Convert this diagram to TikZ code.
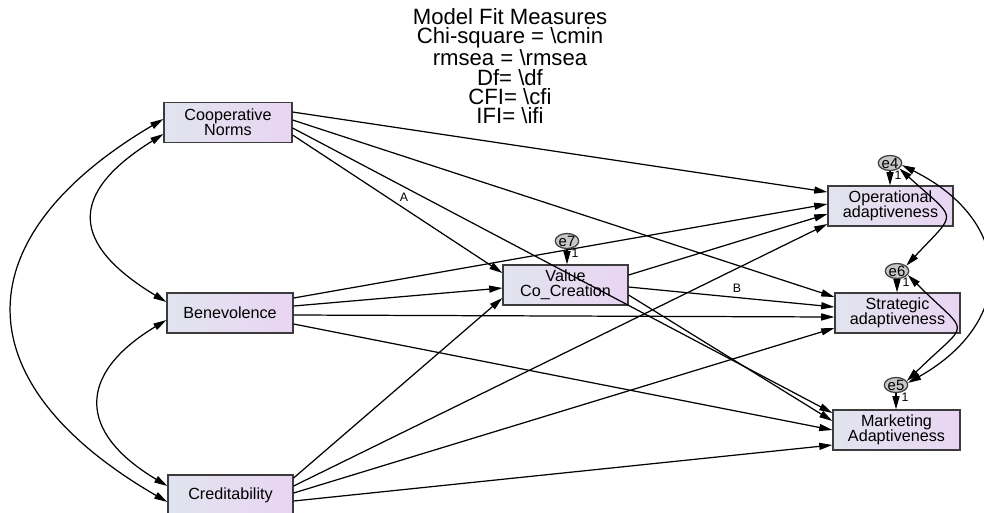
\documentclass[tikz,border=0pt]{standalone}
\usepackage{fontspec}
\setmainfont{Liberation Sans}
\usetikzlibrary{arrows.meta,shapes.geometric}
\definecolor{boxL}{RGB}{225,228,238}
\definecolor{boxR}{RGB}{233,213,243}
\definecolor{edgegray}{RGB}{60,60,60}
\begin{document}
\begin{tikzpicture}[x=0.02cm,y=-0.02cm,
  obs/.style={rectangle, draw=edgegray, line width=0.7pt, left color=boxL, right color=boxR,
    minimum height=0.8cm, inner sep=1pt, align=center, font=\fontsize{9.2}{8.7}\selectfont},
  err/.style={ellipse, draw=edgegray, line width=0.7pt, fill=black!22, minimum width=0.47cm,
    minimum height=0.3cm, inner sep=0pt, font=\fontsize{8.5}{8.5}\selectfont},
  reg/.style={line width=0.7pt, -{Triangle[length=7.5pt,width=4pt]}},
  cov/.style={line width=0.7pt, {Triangle[length=7.5pt,width=4pt]}-{Triangle[length=7.5pt,width=4pt]}},
  wlabel/.style={font=\fontsize{7}{7}\selectfont, inner sep=0pt},
]
\useasboundingbox (0,0) rectangle (984,512);

% fit measures
\node[align=center, font=\fontsize{12.6}{11}\selectfont] (fit) at (510,66)
  {Model Fit Measures\\Chi-square = \textbackslash cmin\\rmsea = \textbackslash rmsea\\Df= \textbackslash df\\CFI= \textbackslash cfi\\IFI= \textbackslash ifi};

% observed variables
\node[obs, minimum width=2.56cm] (coop)  at (228,122.5) {Cooperative\\Norms};
\node[obs, minimum width=2.52cm] (benev) at (230,313)   {Benevolence};
\node[obs, minimum width=2.5cm]  (cred)  at (230.5,495) {Creditability};
\node[obs, minimum width=2.5cm]  (value) at (565.5,285) {Value\\Co\_Creation};
\node[obs, minimum width=2.5cm]  (oper)  at (890.5,206) {Operational\\adaptiveness};
\node[obs, minimum width=2.5cm]  (strat) at (897.5,313) {Strategic\\adaptiveness};
\node[obs, minimum width=2.54cm] (mark)  at (896.5,430) {Marketing\\Adaptiveness};

% error terms
\node[err] (e7) at (567,241) {e7};
\node[err] (e4) at (890,163) {e4};
\node[err] (e6) at (897,271) {e6};
\node[err] (e5) at (896,385) {e5};

\draw[reg] (e7.south) -- (e7.south |- value.north);
\draw[reg] (e4.south) -- (e4.south |- oper.north);
\draw[reg] (e6.south) -- (e6.south |- strat.north);
\draw[reg] (e5.south) -- (e5.south |- mark.north);
\node[wlabel] (w7) at ([shift={(8,12)}]e7.center) {1};
\node[wlabel] (w4) at ([shift={(8,12)}]e4.center) {1};
\node[wlabel] (w6) at ([shift={(9,11)}]e6.center) {1};
\node[wlabel] (w5) at ([shift={(9,12)}]e5.center) {1};

% paths from Cooperative Norms
\draw[reg] ([shift={(0,-10.5)}]coop.east) -- ([shift={(0,-14)}]oper.west);
\draw[reg] ([shift={(0,-2.5)}]coop.east) -- ([shift={(0,-16)}]strat.west);
\draw[reg] ([shift={(0,5.5)}]coop.east) -- ([shift={(0,-17)}]mark.west);
\draw[reg] ([shift={(0,12.5)}]coop.east) -- ([shift={(0,-12)}]value.west);
\node[wlabel] (lblA) at (404,197) {A};

% paths from Benevolence
\draw[reg] ([shift={(0,-15)}]benev.east) -- ([shift={(0,-2)}]oper.west);
\draw[reg] ([shift={(0,-7)}]benev.east) -- ([shift={(0,3)}]value.west);
\draw[reg] ([shift={(0,2)}]benev.east) -- ([shift={(0,4)}]strat.west);
\draw[reg] ([shift={(0,11)}]benev.east) -- (mark.west);

% paths from Creditability
\draw[reg] ([shift={(0,-17)}]cred.east) -- ([shift={(0,13)}]value.west);
\draw[reg] ([shift={(0,-9)}]cred.east) -- ([shift={(0,18)}]oper.west);
\draw[reg] ([shift={(0,-2)}]cred.east) -- ([shift={(0,15)}]strat.west);
\draw[reg] ([shift={(0,6)}]cred.east) -- ([shift={(0,15)}]mark.west);

% paths from Value Co_Creation
\draw[reg] ([shift={(0,-10)}]value.east) -- ([shift={(0,8)}]oper.west);
\draw[reg] ([shift={(0,2)}]value.east) -- ([shift={(0,-6)}]strat.west);
\draw[reg] ([shift={(0,10)}]value.east) -- ([shift={(0,-9)}]mark.west);
\node[wlabel] (lblB) at (737,288) {B};

% covariances among exogenous variables
\draw[cov] ([shift={(0,-3.5)}]coop.west) .. controls (-38,238) and (-38,383) .. ([shift={(0,7)}]cred.west);
\draw[cov] ([shift={(0,11.5)}]coop.west) .. controls (69,193) and (69,243) .. ([shift={(0,-11)}]benev.west);
\draw[cov] ([shift={(0,7)}]benev.west) .. controls (77,374) and (77,432) .. ([shift={(0,-9)}]cred.west);

% covariances among error terms
\draw[cov] (e4.-30) .. controls (958,222) and (958,210) .. (e6.30);
\draw[cov] (e6.-20) .. controls (971,338) and (971,318) .. (e5.20);
\draw[cov] (e4.-10) .. controls (1016,222) and (1016,322) .. (e5.10);
\end{tikzpicture}
\end{document}
